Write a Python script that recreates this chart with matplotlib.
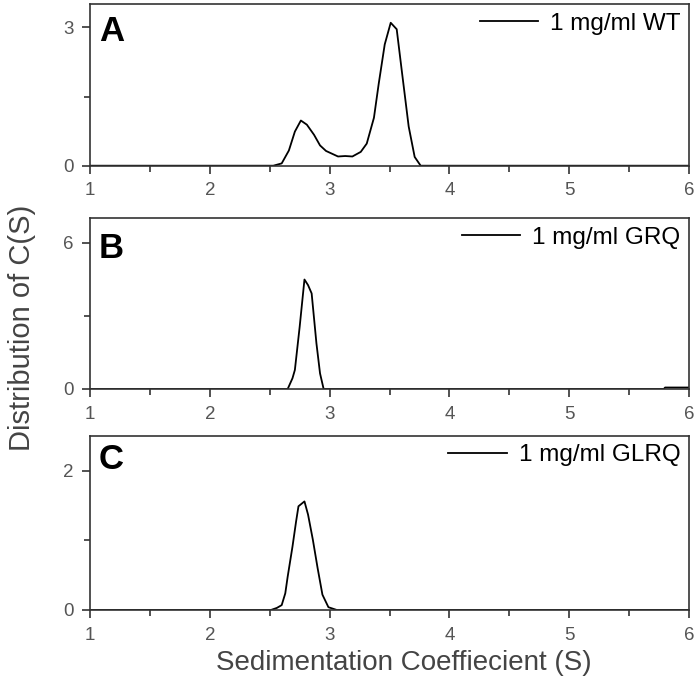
import matplotlib
matplotlib.use('Agg')
import matplotlib.pyplot as plt
from matplotlib.ticker import MultipleLocator

plt.rcParams['font.family'] = ['Liberation Sans', 'DejaVu Sans']

# Данные
x_wt = [1.0, 2.53, 2.60, 2.66, 2.71, 2.76, 2.81, 2.87, 2.92, 2.97, 3.02, 3.07, 3.13,
        3.19, 3.26, 3.31, 3.37, 3.41, 3.46, 3.51, 3.56, 3.60, 3.66, 3.71, 3.76, 6.0]
y_wt = [0.0, 0.0, 0.05, 0.33, 0.74, 0.98, 0.89, 0.67, 0.44, 0.32, 0.26, 0.20, 0.21,
        0.20, 0.30, 0.48, 1.04, 1.78, 2.63, 3.10, 2.96, 2.11, 0.85, 0.19, 0.0, 0.0]

x_grq = [1.0, 2.65, 2.69, 2.71, 2.75, 2.79, 2.82, 2.85, 2.89, 2.92, 2.95, 5.79, 5.80, 6.0]
y_grq = [0.0, 0.0, 0.44, 0.78, 2.55, 4.49, 4.26, 3.92, 1.87, 0.64, 0.0, 0.0, 0.06, 0.06]

x_glrq = [1.0, 2.51, 2.56, 2.60, 2.63, 2.65, 2.69, 2.72, 2.74, 2.79, 2.82, 2.86,
          2.90, 2.94, 2.99, 3.06, 6.0]
y_glrq = [0.0, 0.0, 0.03, 0.07, 0.24, 0.48, 0.91, 1.27, 1.49, 1.56, 1.37, 1.01,
          0.60, 0.22, 0.04, 0.0, 0.0]

# буква, подпись, x, y, верх оси y, шаг основных делений, отступ буквы сверху (px)
panels = [
    ('A', '1 mg/ml WT', x_wt, y_wt, 3.5, 3, 11),
    ('B', '1 mg/ml GRQ', x_grq, y_grq, 7.0, 6, 14),
    ('C', '1 mg/ml GLRQ', x_glrq, y_glrq, 2.5, 2, 7),
]
# положения осей в долях фигуры (left, bottom, width, height)
boxes = [
    (0.1286, 0.7588, 0.8557, 0.2349),
    (0.1286, 0.4338, 0.8557, 0.2484),
    (0.1286, 0.1121, 0.8557, 0.2533),
]

frame_color = '#333333'
label_color = '#555555'
px = 72 / 100  # пунктов в одном пикселе

fig = plt.figure(figsize=(7.0, 6.87), dpi=100)

for (letter, name, xs, ys, ytop, ymajor, dy), box in zip(panels, boxes):
    ax = fig.add_axes(box)
    ax.plot(xs, ys, color='black', linewidth=1.3, label=name)
    ax.set_xlim(1, 6)
    ax.set_ylim(0, ytop)
    ax.xaxis.set_major_locator(MultipleLocator(1))
    ax.xaxis.set_minor_locator(MultipleLocator(0.5))
    ax.yaxis.set_major_locator(MultipleLocator(ymajor))
    ax.yaxis.set_minor_locator(MultipleLocator(ymajor / 2))
    ax.tick_params(which='major', direction='out', length=6, width=1.2,
                   color=frame_color, labelsize=13.5, labelcolor=label_color, pad=6)
    ax.tick_params(which='minor', direction='out', length=4, width=1.2,
                   color=frame_color)
    for sp in ax.spines.values():
        sp.set_color(frame_color)
        sp.set_linewidth(1.2)
    ax.annotate(letter, xy=(0, 1), xycoords='axes fraction',
                xytext=(9 * px, -dy * px), textcoords='offset points',
                fontsize=25, fontweight='bold', va='top', ha='left', color='black')
    ax.legend(loc='upper right', frameon=False, fontsize=17.5, handlelength=2.4,
              handletextpad=0.5, borderaxespad=0.2, borderpad=0.15)

fig.text(0.031, 0.523, 'Distribution of C(S)', rotation=90, ha='center',
         va='center', fontsize=21, color='#444444')
fig.text(0.577, 0.035, 'Sedimentation Coeffiecient (S)', ha='center',
         va='center', fontsize=20, color='#444444')

fig.savefig('out.png', dpi=100)
plt.close()
